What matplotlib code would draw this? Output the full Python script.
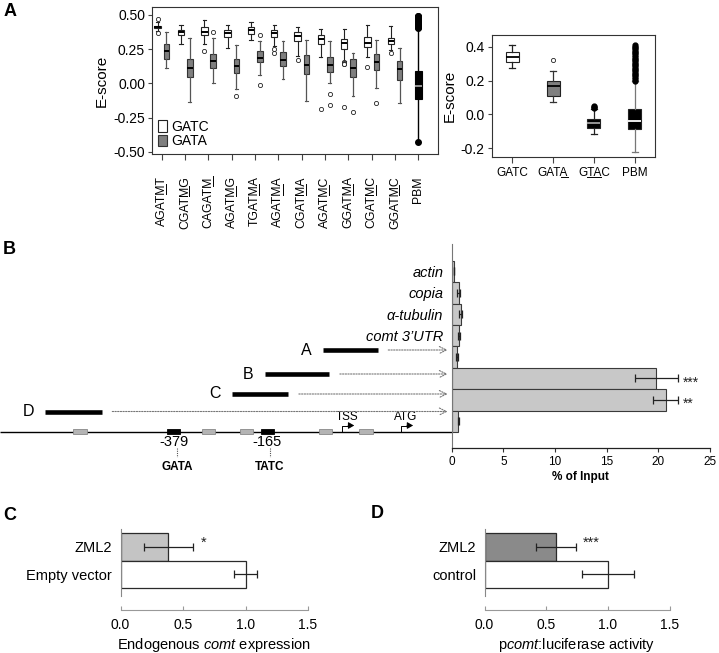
import numpy as np
import matplotlib
matplotlib.use('Agg')
import matplotlib.pyplot as plt
from matplotlib.lines import Line2D
from matplotlib.patches import Rectangle
from matplotlib.transforms import IdentityTransform

plt.rcParams['font.family'] = ['Liberation Sans', 'DejaVu Sans']
plt.rcParams['mathtext.fontset'] = 'custom'
plt.rcParams['mathtext.rm'] = 'Liberation Sans'
plt.rcParams['mathtext.it'] = 'Liberation Sans:italic'

# ---- panel A, left: GATC / GATA E-scores per flank ----
motifs = ['AGATMT', 'CGATMG', 'CAGATM', 'AGATMG', 'TGATMA', 'AGATMA',
          'CGATMA', 'AGATMC', 'GGATMA', 'CGATMC', 'GGATMC']
gatc_lo = [0.385, 0.29, 0.29, 0.262, 0.318, 0.275, 0.20, 0.196, 0.164, 0.196, 0.245]
gatc_q1 = [0.404, 0.353, 0.353, 0.336, 0.36, 0.34, 0.311, 0.29, 0.254, 0.264, 0.286]
gatc_md = [0.412, 0.372, 0.378, 0.365, 0.39, 0.37, 0.345, 0.325, 0.295, 0.298, 0.31]
gatc_q3 = [0.42, 0.393, 0.41, 0.39, 0.415, 0.393, 0.375, 0.355, 0.323, 0.342, 0.334]
gatc_hi = [0.45, 0.43, 0.465, 0.43, 0.45, 0.43, 0.41, 0.40, 0.40, 0.427, 0.422]
gatc_out = [[0.47, 0.37], [], [0.238], [], [], [0.255, 0.225], [0.17], [-0.185],
            [0.16, 0.15, 0.145, 0.14, -0.17], [0.123], [0.22]]
gata_lo = [0.11, -0.135, 0.005, -0.04, 0.065, 0.03, -0.125, 0.0, -0.09, -0.035, -0.145]
gata_q1 = [0.18, 0.05, 0.113, 0.078, 0.155, 0.125, 0.07, 0.085, 0.05, 0.10, 0.025]
gata_md = [0.235, 0.112, 0.165, 0.13, 0.186, 0.172, 0.137, 0.132, 0.112, 0.16, 0.102]
gata_q3 = [0.285, 0.178, 0.215, 0.18, 0.235, 0.226, 0.206, 0.192, 0.182, 0.214, 0.165]
gata_hi = [0.372, 0.33, 0.33, 0.283, 0.31, 0.313, 0.32, 0.307, 0.22, 0.316, 0.26]
gata_out = [[], [], [0.377], [-0.093], [0.35, -0.013], [], [], [-0.078, -0.157],
            [-0.212], [-0.145], []]
pbm_stats = dict(whislo=-0.41, q1=-0.115, med=-0.02, q3=0.091, whishi=0.40)
pbm_out = [-0.425, 0.405, 0.41, 0.415, 0.42, 0.425, 0.43, 0.435, 0.44, 0.445,
           0.45, 0.455, 0.46, 0.465, 0.47, 0.475, 0.48, 0.485, 0.49, 0.495]

# ---- panel A, right: summary ----
sum_labels = ['GATC', 'GATA', 'GTAC', 'PBM']
sum_under = [None, (3, 4), (1, 3), None]
sum_lo = [0.272, 0.072, -0.117, -0.22]
sum_q1 = [0.308, 0.111, -0.078, -0.088]
sum_md = [0.341, 0.168, -0.048, -0.039]
sum_q3 = [0.367, 0.197, -0.027, 0.03]
sum_hi = [0.41, 0.256, 0.033, 0.197]
sum_out = [[], [0.321], [0.04, 0.045, 0.05],
           [0.20, 0.21, 0.22, 0.23, 0.24, 0.25, 0.26, 0.27, 0.28, 0.29, 0.30,
            0.31, 0.32, 0.33, 0.34, 0.35, 0.36, 0.37, 0.38, 0.39, 0.40, 0.41]]

# ---- panel B: ChIP ----
chip_labels = ['actin', 'copia', 'α-tubulin', 'comt 3’UTR', 'A', 'B', 'C', 'D']
chip_vals = [0.25, 0.66, 0.86, 0.73, 0.5, 19.8, 20.7, 0.63]
chip_err = [0.02, 0.12, 0.12, 0.12, 0.12, 2.1, 1.2, 0.05]
chip_stars = ['', '', '', '', '', '***', '**', '']
frag_names = ['A', 'B', 'C', 'D']
frag_start = [-44, -177, -253, -681]   # bp relative to TSS
frag_end = [82, -29, -123, -551]
frag_row = [350, 374, 394, 411.5]      # diagram rows (px)
gray_sites = [-601, -307, -220, -39, 55]
gata_sites = [-379, -165]
gata_names = ['GATA', 'TATC']
tss_atg = [('TSS', 0), ('ATG', 135)]

# ---- panels C, D ----
c_labels = ['ZML2', 'Empty vector']
c_vals = [0.383, 1.0]
c_err = [0.196, 0.09]
d_labels = ['ZML2', 'control']
d_vals = [0.578, 1.0]
d_err = [0.16, 0.21]

W, H = 719, 653
fig = plt.figure(figsize=(W / 100, H / 100), dpi=100)


def px_axes(l, t, r, b):
    return fig.add_axes([l / W, 1 - b / H, (r - l) / W, (b - t) / H])


def stat_list(lo, q1, md, q3, hi, out):
    return [dict(whislo=a, q1=b, med=c, q3=d, whishi=e, fliers=f)
            for a, b, c, d, e, f in zip(lo, q1, md, q3, hi, out)]


flier_open = dict(marker='o', markersize=3, markerfacecolor='white',
                  markeredgecolor='#222222', markeredgewidth=0.6)

# ================= A main =================
axA = px_axes(152, 7, 437.7, 154)
pos = np.arange(1, len(motifs) + 1)
axA.bxp(stat_list(gatc_lo, gatc_q1, gatc_md, gatc_q3, gatc_hi, gatc_out),
        positions=pos - 0.18, widths=0.28, patch_artist=True,
        boxprops=dict(facecolor='white', edgecolor='#222222', linewidth=0.8),
        medianprops=dict(color='black', linewidth=1.4),
        whiskerprops=dict(color='#222222', linewidth=0.8),
        capprops=dict(color='#222222', linewidth=0.8), capwidths=0.14,
        flierprops=flier_open)
axA.bxp(stat_list(gata_lo, gata_q1, gata_md, gata_q3, gata_hi, gata_out),
        positions=pos + 0.2, widths=0.24, patch_artist=True,
        boxprops=dict(facecolor='#7f7f7f', edgecolor='#333333', linewidth=0.8),
        medianprops=dict(color='black', linewidth=1.4),
        whiskerprops=dict(color='#555555', linewidth=0.9),
        capprops=dict(color='#555555', linewidth=0.8), capwidths=0.12,
        flierprops=flier_open)
axA.bxp([dict(pbm_stats, fliers=pbm_out)], positions=[len(motifs) + 1],
        widths=0.3, patch_artist=True,
        boxprops=dict(facecolor='black', edgecolor='black', linewidth=0.8),
        medianprops=dict(color='#b0b0b0', linewidth=1.2),
        whiskerprops=dict(color='black', linewidth=1.0),
        capprops=dict(color='black', linewidth=0), capwidths=0.1,
        flierprops=dict(marker='o', markersize=4, markerfacecolor='black',
                        markeredgecolor='black'))
axA.set_xlim(0.58, 12.83)
axA.set_ylim(-0.515, 0.558)
axA.set_yticks([0.5, 0.25, 0.0, -0.25, -0.5])
axA.set_yticklabels(['0.50', '0.25', '0.00', '-0.25', '-0.50'], fontsize=10)
axA.set_xticks(list(pos) + [len(motifs) + 1])
axA.set_xticklabels(motifs + ['PBM'], rotation=90, fontsize=8.8, va='top')
axA.tick_params(axis='x', length=4, pad=12, color='#444444')
axA.tick_params(axis='y', length=3, pad=2, color='#444444')
axA.set_ylabel('E-score', fontsize=11, labelpad=3)
for s in axA.spines.values():
    s.set_color('#333333')
    s.set_linewidth(0.8)
axA.legend(handles=[Rectangle((0, 0), 1, 1, facecolor='white', edgecolor='#222222', lw=0.8),
                    Rectangle((0, 0), 1, 1, facecolor='#7f7f7f', edgecolor='#333333', lw=0.8)],
           labels=['GATC', 'GATA'], loc='lower left', frameon=False, fontsize=10,
           handlelength=0.7, handleheight=0.9, handletextpad=0.3, labelspacing=0.05,
           borderaxespad=0.2, borderpad=0.2)

# ================= A summary =================
axS = px_axes(491.7, 35, 655.3, 157.3)
sp = np.arange(1, 5)
s_face = ['white', '#7f7f7f', 'black', 'black']
s_med = ['black', 'black', '#a0a0a0', 'white']
s_whisk = ['#222222', '#333333', '#222222', '#777777']
s_stats = stat_list(sum_lo, sum_q1, sum_md, sum_q3, sum_hi, sum_out)
for i in range(4):
    fl = flier_open if i < 2 else dict(marker='o', markersize=3.5, markerfacecolor='black',
                                       markeredgecolor='black')
    axS.bxp([s_stats[i]], positions=[sp[i]], widths=0.32, patch_artist=True,
            boxprops=dict(facecolor=s_face[i], edgecolor='#222222', linewidth=0.8),
            medianprops=dict(color=s_med[i], linewidth=1.3),
            whiskerprops=dict(color=s_whisk[i], linewidth=0.9),
            capprops=dict(color=s_whisk[i], linewidth=0.9), capwidths=0.16,
            flierprops=fl)
axS.set_xlim(0.5, 4.5)
axS.set_ylim(-0.253, 0.469)
axS.set_yticks([0.4, 0.2, 0.0, -0.2])
axS.set_yticklabels(['0.4', '0.2', '0.0', '-0.2'], fontsize=10)
axS.set_xticks(sp)
axS.set_xticklabels(sum_labels, fontsize=8.5)
axS.tick_params(axis='x', length=4, pad=3, color='#444444')
axS.tick_params(axis='y', length=3, pad=2, color='#444444')
axS.set_ylabel('E-score', fontsize=11, labelpad=3)
for s in axS.spines.values():
    s.set_color('#333333')
    s.set_linewidth(0.8)

# ================= B bars =================
axB = px_axes(451.7, 244, 710, 448)
yb = np.arange(len(chip_labels))
axB.barh(yb, chip_vals, height=1.0, color='#c8c8c8', edgecolor='#3a3a3a', linewidth=0.8)
axB.errorbar(chip_vals, yb, xerr=chip_err, fmt='none', ecolor='#222222',
             elinewidth=0.9, capsize=3, capthick=0.9)
for y, v, e, st in zip(yb, chip_vals, chip_err, chip_stars):
    if st:
        axB.text(v + e + 0.5, y + 0.2, st, fontsize=10, ha='left', va='center', color='#222222')
axB.set_ylim(8.25, -1.28)
axB.set_xlim(0, 25)
axB.set_yticks(yb[:4])
axB.set_yticklabels(chip_labels[:4], fontsize=10.5, fontstyle='italic')
axB.tick_params(axis='y', length=0, pad=6)
axB.set_xticks([0, 5, 10, 15, 20, 25])
axB.tick_params(axis='x', length=3, pad=3, labelsize=8.5, color='#333333')
axB.set_xlabel('% of Input', fontsize=8.5, fontweight='bold', labelpad=2)
for k in ['top', 'right']:
    axB.spines[k].set_visible(False)
axB.spines['left'].set_color('#777777')
axB.spines['left'].set_linewidth(0.8)
axB.spines['bottom'].set_color('#222222')
axB.spines['bottom'].set_linewidth(0.9)

# ================= B promoter diagram =================
axD = px_axes(0, 240, 451.7, 480)
axD.set_zorder(-1)
axD.set_xlim(-784.5, 251.5)
axD.set_ylim(480, 240)
axD.axis('off')
line_y = 431.7
axD.plot([-784.5, 251.5], [line_y, line_y], color='black', lw=1.0, solid_capstyle='butt')
for s in gray_sites:
    axD.add_patch(Rectangle((s - 15, line_y - 2.6), 30, 5.2, facecolor='#b4b4b4',
                            edgecolor='#888888', lw=0.6, zorder=3))
for s, nm in zip(gata_sites, gata_names):
    axD.add_patch(Rectangle((s - 22, line_y - 2.6), 30, 5.2, facecolor='black',
                            edgecolor='black', lw=0.6, zorder=3))
    axD.text(s - 7, 442, str(s), fontsize=10.5, ha='center', va='center')
    axD.plot([s, s], [447.5, 457], color='#555555', lw=0.8, ls=(0, (1, 1)))
    axD.text(s, 467.5, nm, fontsize=8.5, fontweight='bold', ha='center', va='center')
for nm, p in tss_atg:
    axD.plot([p, p, p + 16], [line_y, 425.5, 425.5], color='black', lw=0.7)
    axD.annotate('', xy=(p + 28, 425.5), xytext=(p + 14, 425.5),
                 arrowprops=dict(arrowstyle='-|>,head_length=0.35,head_width=0.2',
                                 color='black', lw=0.7, shrinkA=0, shrinkB=0))
    axD.text(p + 12, 417.5, nm, fontsize=8.5, ha='center', va='center')
for nm, a, b, r in zip(frag_names, frag_start, frag_end, frag_row):
    axD.plot([a, b], [r, r], color='black', lw=3.3, solid_capstyle='butt')
    axD.text(a - 26, r, nm, fontsize=11.5, ha='right', va='center')
    axD.annotate('', xy=(242, r), xytext=(b + 24, r),
                 arrowprops=dict(arrowstyle='->,head_length=0.5,head_width=0.25',
                                 color='#777777', lw=0.8, ls=(0, (1.2, 1.2)),
                                 shrinkA=0, shrinkB=0))


# ================= C and D =================
def small_bar(rect, labels, vals, errs, color, star, star_x, xlabel):
    ax = px_axes(*rect)
    y = np.arange(len(labels))[::-1]
    ax.barh(y, vals, height=1.0, color=[color, 'white'], edgecolor='#2a2a2a', linewidth=0.9)
    ax.errorbar(vals, y, xerr=errs, fmt='none', ecolor='#222222', elinewidth=0.9,
                capsize=3, capthick=0.9)
    ax.text(star_x, y[0] + 0.15, star, fontsize=10.5, ha='left', va='center', color='#222222')
    ax.set_xlim(0, 1.5)
    ax.set_ylim(-1.28, 1.64)
    ax.set_yticks(y)
    ax.set_yticklabels(labels, fontsize=10.5)
    ax.tick_params(axis='y', length=0, pad=6)
    ax.set_xticks([0, 0.5, 1.0, 1.5])
    ax.set_xticklabels(['0.0', '0.5', '1.0', '1.5'])
    ax.tick_params(axis='x', direction='in', length=3, color='#999999', labelsize=10, pad=6)
    for k in ['top', 'right']:
        ax.spines[k].set_visible(False)
    ax.spines['left'].set_bounds(-0.78, 1.64)
    ax.spines['left'].set_color('#888888')
    ax.spines['bottom'].set_color('#999999')
    ax.spines['bottom'].set_linewidth(0.8)
    ax.set_xlabel(xlabel, fontsize=10.5, labelpad=3)
    return ax


small_bar((120.5, 529, 308, 610), c_labels, c_vals, c_err, '#c4c4c4', '*', 0.64,
          'Endogenous $\\mathit{comt}$ expression')
small_bar((484.5, 529, 669.5, 610), d_labels, d_vals, d_err, '#8a8a8a', '***', 0.795,
          'p$\\mathit{comt}$:luciferase activity')

# panel letters
for t, x, y in [('A', 4, 11), ('B', 3, 250), ('C', 3, 516), ('D', 371, 513)]:
    fig.text(x / W, 1 - y / H, t, fontsize=13, fontweight='bold', va='center', ha='left')

# ---- underlines for the variable positions ----
fig.canvas.draw()
rend = fig.canvas.get_renderer()


def underline(txt, a, b):
    s = txt.get_text()
    fp = txt.get_fontproperties()
    w0 = rend.get_text_width_height_descent(s[:a], fp, ismath=False)[0] if a else 0
    w1 = rend.get_text_width_height_descent(s[:b], fp, ismath=False)[0]
    lpd = rend.get_text_width_height_descent('lp', fp, ismath=False)[2]
    bb = txt.get_window_extent(rend)
    if txt.get_rotation() == 90:
        xb = bb.x1 - lpd + 1.2
        xs, ys = [xb, xb], [bb.y0 + w0, bb.y0 + w1]
    else:
        yb = bb.y0 + lpd - 1.2
        xs, ys = [bb.x0 + w0, bb.x0 + w1], [yb, yb]
    fig.add_artist(Line2D(xs, ys, transform=IdentityTransform(), color='black', lw=0.7))


for t in axA.get_xticklabels()[:len(motifs)]:
    i = t.get_text().index('M')
    underline(t, i, i + 1)
for t, u in zip(axS.get_xticklabels(), sum_under):
    if u:
        underline(t, u[0], u[1])

fig.savefig('out.png', dpi=100)
